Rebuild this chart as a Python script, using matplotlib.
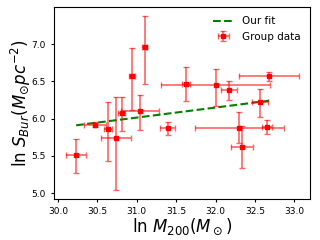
import numpy as np
import matplotlib
matplotlib.use('Agg')
import matplotlib.pyplot as plt

# group data (ln M200, ln S_Bur) with errors
ln_m200 = [30.23, 30.47, 30.64, 30.74, 30.81, 31.04, 30.94, 31.10, 31.62,
           32.00, 32.17, 32.68, 32.56, 32.30, 32.65, 32.33, 31.39]
ln_sbur = [5.51, 5.92, 5.855, 5.74, 6.08, 6.10, 6.57, 6.96, 6.47,
           6.445, 6.38, 6.57, 6.22, 5.88, 5.89, 5.62, 5.87]
m_err = [0.13, 0.14, 0.05, 0.19, 0.045, 0.24, 0.04, 0.03, 0.05,
         0.69, 0.10, 0.38, 0.10, 0.565, 0.065, 0.14, 0.09]
s_err_lo = [0.24, 0.03, 0.43, 0.70, 0.25, 0.25, 0.46, 0.50, 0.23,
            0.27, 0.13, 0.06, 0.20, 0.21, 0.10, 0.28, 0.09]
s_err_hi = [0.21, 0.03, 0.37, 0.55, 0.21, 0.22, 0.38, 0.42, 0.22,
            0.22, 0.12, 0.06, 0.18, 0.21, 0.09, 0.28, 0.08]

# fit line end points
fit_x = [30.23, 32.68]
fit_y = [5.91, 6.24]

fig = plt.figure(figsize=(3.2, 2.4), dpi=100)
ax = fig.add_axes([0.169, 0.171, 0.8, 0.8])

ax.plot(fit_x, fit_y, '--', color='green', lw=1.5, label='Our fit')
ax.errorbar(ln_m200, ln_sbur, xerr=m_err, yerr=[s_err_lo, s_err_hi],
            fmt='s', color='red', ms=2.8, ecolor=(1, 0, 0, 0.6),
            elinewidth=1.2, capsize=2, label='Group data')

ax.set_xlim(29.95, 33.2)
ax.set_ylim(4.92, 7.5)
ax.set_xticks([30.0, 30.5, 31.0, 31.5, 32.0, 32.5, 33.0])
ax.set_yticks([5.0, 5.5, 6.0, 6.5, 7.0])
ax.tick_params(labelsize=6.5, length=2.5)

ax.set_xlabel(r'ln $M_{200}(M_\odot)$', fontsize=12, labelpad=0)
ax.set_ylabel(r'ln $S_{Bur}(M_{\odot}pc^{-2})$', fontsize=12, labelpad=-1)

ax.legend(loc='upper right', frameon=False, fontsize=7.5)

fig.savefig('out.png', dpi=100)
